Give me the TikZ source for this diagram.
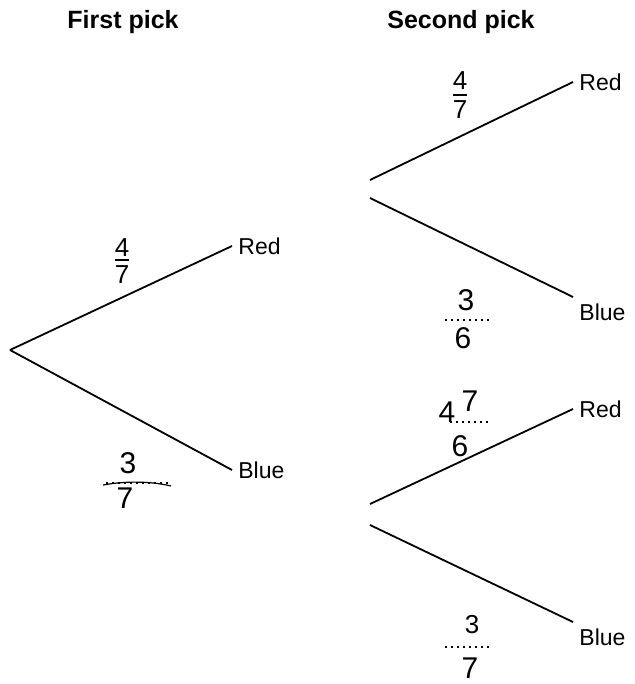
\documentclass[tikz,border=0pt]{standalone}
\usepackage{fontspec}
\setmainfont{Liberation Sans}
\usepackage{tikz}
\usetikzlibrary{positioning}

\begin{document}
\begin{tikzpicture}[
  x=0.5pt, y=-0.5pt,
  title/.style={font=\fontsize{12.5}{14}\selectfont\bfseries, inner sep=0pt},
  lab/.style={font=\fontsize{11.5}{13}\selectfont, inner sep=3pt},
  num/.style={font=\fontsize{13}{14}\selectfont, inner sep=0pt},
  hand/.style={font=\fontsize{15}{16}\selectfont, inner sep=0pt},
  branch/.style={line width=0.9pt, black},
  pbar/.style={line width=0.6pt, black},
  dbar/.style={line width=1pt, black, dotted}
]
\useasboundingbox (0,0) rectangle (634,684);
% headings
\node[title] (first) at (123,22) {First pick};
\node[title] (second) at (461,22) {Second pick};
% first pick
\coordinate (root) at (10,350);
\node[lab, anchor=west] (red1) at (232,246) {Red};
\node[lab, anchor=west] (blue1) at (232,470) {Blue};
\draw[branch] (root) -- (red1.west);
\draw[branch] (root) -- (blue1.west);
% second pick, after red
\coordinate (upA) at (370,180);
\coordinate (upB) at (370,198);
\node[lab, anchor=west] (red2) at (573,82) {Red};
\node[lab, anchor=north west] (blue2) at (573,297) {Blue};
\draw[branch] (upA) -- (red2.west);
\draw[branch] (upB) -- (blue2.north west);
% second pick, after blue
\coordinate (lowA) at (370,504);
\coordinate (lowB) at (370,525);
\node[lab, anchor=west] (red3) at (573,409) {Red};
\node[lab, anchor=north west] (blue3) at (573,622) {Blue};
\draw[branch] (lowA) -- (red3.west);
\draw[branch] (lowB) -- (blue3.north west);
% probabilities, first pick
\node[num] (n1) at (122,248) {4};
\draw[pbar] (115,260) -- (129,260);
\node[num] (d1) at (122,275) {7};
\node[hand] (n2) at (128,463) {3};
\draw[pbar] (103,485) .. controls (125,481) and (150,481) .. (171,486);
\draw[dbar] (106,483) -- (168,483);
\node[hand] (d2) at (125,498) {7};
% probabilities, second pick
\node[num] (n3) at (460,81) {4};
\draw[pbar] (453,95) -- (467,95);
\node[num] (d3) at (460,110) {7};
\node[hand] (n4) at (466,300) {3};
\draw[dbar] (445,320) -- (490,320);
\node[hand] (d4) at (463,338) {6};
\node[hand] (n5) at (447,412) {4};
\node[hand] (n5b) at (470,401) {7};
\draw[dbar] (450,422) -- (490,422);
\node[hand] (d5) at (460,446) {6};
\node[num] (n6) at (472,625) {3};
\draw[dbar] (445,647) -- (490,647);
\node[hand] (d6) at (470,668) {7};
\end{tikzpicture}
\end{document}
